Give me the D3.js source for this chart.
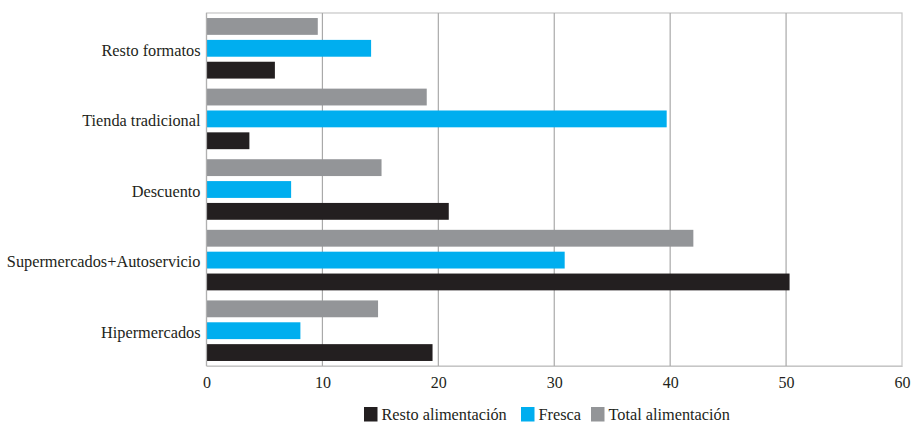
<!DOCTYPE html>
<html>
<head>
<meta charset="utf-8">
<script src="https://cdn.jsdelivr.net/npm/d3@7"></script>
<style>
  body { margin: 0; background: #fff; }
</style>
</head>
<body>
<svg id="chart" width="913" height="423"></svg>
<script>
const categories = ["Resto formatos", "Tienda tradicional", "Descuento", "Supermercados+Autoservicio", "Hipermercados"];
const seriesNames = ["Resto alimentación", "Fresca", "Total alimentación"];
const restoAlimentacion = [5.9, 3.7, 20.9, 50.3, 19.5];
const fresca = [14.2, 39.7, 7.3, 30.9, 8.1];
const totalAlimentacion = [9.6, 19.0, 15.1, 42.0, 14.8];
const xTicks = [0, 10, 20, 30, 40, 50, 60];
const colors = { "Resto alimentación": "#231f20", "Fresca": "#00aeef", "Total alimentación": "#939598" };

const seriesValues = { "Resto alimentación": restoAlimentacion, "Fresca": fresca, "Total alimentación": totalAlimentacion };
const svg = d3.select("#chart");
const mLeft = 206.5, mRight = 902, mTop = 13, mBottom = 366;
const serif = '"Liberation Serif"';

const x = d3.scaleLinear().domain([0, 60]).range([mLeft, mRight]);
const y0 = d3.scaleBand().domain(categories).range([mTop, mBottom]);
const barOrder = ["Total alimentación", "Fresca", "Resto alimentación"];
const y1 = d3.scaleBand().domain(barOrder).range([0, y0.bandwidth()]).paddingInner(0.23).paddingOuter(0.23);

// frame
svg.append("rect").attr("x", mLeft).attr("y", mTop).attr("width", mRight - mLeft).attr("height", mBottom - mTop)
  .attr("fill", "none").attr("stroke", "#c6c6c6").attr("stroke-width", 1.2);

// gridlines
svg.append("g").selectAll("line").data(xTicks.slice(1, -1)).join("line")
  .attr("x1", d => x(d)).attr("x2", d => x(d)).attr("y1", mTop).attr("y2", mBottom)
  .attr("stroke", "#a9a9a9").attr("stroke-width", 1.2);

// bars
const groups = svg.append("g").selectAll("g").data(categories).join("g")
  .attr("transform", d => `translate(0,${y0(d)})`);
groups.selectAll("rect").data((c, i) => barOrder.map(s => ({ s, v: seriesValues[s][i] }))).join("rect")
  .attr("x", x(0)).attr("y", d => y1(d.s)).attr("height", y1.bandwidth())
  .attr("width", d => x(d.v) - x(0)).attr("fill", d => colors[d.s]);

// left axis line
svg.append("line").attr("x1", mLeft).attr("x2", mLeft).attr("y1", mTop).attr("y2", mBottom)
  .attr("stroke", "#b0b0b0").attr("stroke-width", 1.2);

// x axis
const xAxis = svg.append("g").attr("transform", `translate(0,${mBottom})`)
  .call(d3.axisBottom(x).tickValues(xTicks).tickSize(0).tickPadding(11).tickFormat(d3.format("d")));
xAxis.select(".domain").attr("stroke", "#c6c6c6").attr("stroke-width", 1.2);
xAxis.selectAll("text").attr("fill", "#231f20").attr("font-family", serif).attr("font-size", 16);

// y axis labels
const yAxis = svg.append("g").attr("transform", `translate(${mLeft},0)`)
  .call(d3.axisLeft(y0).tickSize(0).tickPadding(6));
yAxis.select(".domain").remove();
yAxis.selectAll("text").attr("fill", "#231f20").attr("dy", "0.45em")
  .attr("font-family", serif).attr("font-size", 16.3);

// legend
const legendItems = [
  { name: "Resto alimentación", x: 364 },
  { name: "Fresca", x: 521 },
  { name: "Total alimentación", x: 591 }
];
const lg = svg.append("g").selectAll("g").data(legendItems).join("g")
  .attr("transform", d => `translate(${d.x},407)`);
lg.append("rect").attr("width", 13.5).attr("height", 14.5).attr("fill", d => colors[d.name]);
lg.append("text").attr("x", 17.5).attr("y", 13).attr("fill", "#231f20")
  .attr("font-family", serif).attr("font-size", 16.3).text(d => d.name);
</script>
</body>
</html>
